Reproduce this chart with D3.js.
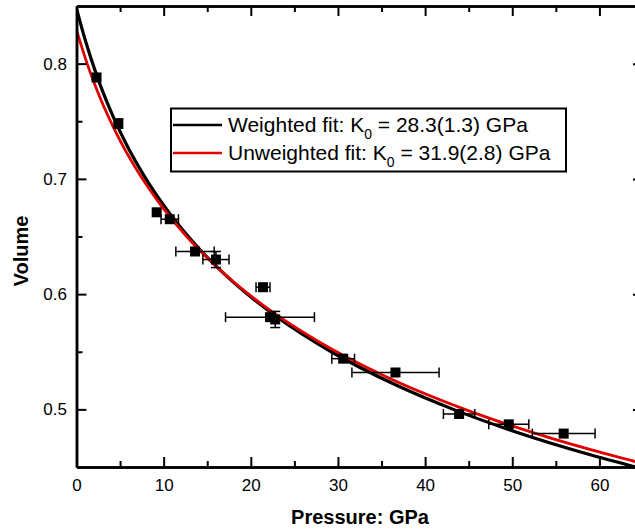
<!DOCTYPE html>
<html>
<head>
<meta charset="utf-8">
<script src="https://cdn.jsdelivr.net/npm/d3@7"></script>
<style>
  html, body { margin: 0; padding: 0; background: #fff; }
  svg { display: block; font-family: "Liberation Sans", Arial, sans-serif; }
</style>
</head>
<body>
<div id="chart"></div>
<script>
// measured points: pressure (GPa), volume, and their error bars
const pressure = [2.3, 4.8, 9.2, 10.7, 13.6, 16.0, 21.4, 22.2, 22.8, 30.6, 36.6, 43.9, 49.6, 55.9];
const volume   = [0.788, 0.748, 0.671, 0.665, 0.637, 0.630, 0.606, 0.580, 0.578, 0.544, 0.532, 0.496, 0.487, 0.479];
const pressureErr = [0, 0, 0, 1.0, 2.2, 1.5, 0.8, 5.1, 0, 1.3, 5.0, 1.8, 2.3, 3.6];
const volumeErr   = [0, 0.004, 0, 0, 0, 0.007, 0, 0, 0.007, 0, 0, 0, 0, 0];

// fit curves
const weightedP = [0, 1.02, 2.31, 3.86, 5.72, 7.97, 10.69, 14.0, 18.05, 23.04, 29.23, 36.97, 43.23, 50.58, 59.25, 64.1, 65.5];
const weightedV = [0.848, 0.82, 0.79, 0.76, 0.73, 0.70, 0.67, 0.64, 0.61, 0.58, 0.55, 0.52, 0.50, 0.48, 0.46, 0.45, 0.447];
const unweightedP = [0, 1.22, 2.73, 4.55, 6.74, 9.40, 12.64, 16.60, 21.47, 27.51, 35.04, 44.55, 52.29, 61.43, 66.6];
const unweightedV = [0.829, 0.80, 0.77, 0.74, 0.71, 0.68, 0.65, 0.62, 0.59, 0.56, 0.53, 0.50, 0.48, 0.46, 0.45];

const xMajor = [0, 10, 20, 30, 40, 50, 60];
const xMinor = [5, 15, 25, 35, 45, 55];
const yMajor = [0.5, 0.6, 0.7, 0.8];
const yMinor = [0.55, 0.65, 0.75];

const legendLabels = [
  {text: "Weighted fit: K", value: " = 28.3(1.3) GPa", color: "#000"},
  {text: "Unweighted fit: K", value: " = 31.9(2.8) GPa", color: "#e00000"}
];

const width = 635, height = 530;
const margin = {left: 76.5, top: 6, right: -8, bottom: 63};

const svg = d3.select("#chart").append("svg")
    .attr("width", width)
    .attr("height", height);

const x = d3.scaleLinear().domain([0, 65]).range([margin.left, width - margin.right]);
const y = d3.scaleLinear().domain([0.45, 0.85]).range([height - margin.bottom, margin.top]);

svg.append("clipPath")
    .attr("id", "plot-clip")
  .append("rect")
    .attr("x", x(0))
    .attr("y", y(0.85))
    .attr("width", x(65) - x(0))
    .attr("height", y(0.45) - y(0.85));

// fit lines
const line = d3.line()
    .x(d => x(d[0]))
    .y(d => y(d[1]))
    .curve(d3.curveMonotoneX);

const curves = svg.append("g").attr("clip-path", "url(#plot-clip)");
curves.append("path")
    .datum(d3.zip(weightedP, weightedV))
    .attr("fill", "none")
    .attr("stroke", "#000")
    .attr("stroke-width", 3.2)
    .attr("d", line);
curves.append("path")
    .datum(d3.zip(unweightedP, unweightedV))
    .attr("fill", "none")
    .attr("stroke", "#e00000")
    .attr("stroke-width", 2.8)
    .attr("d", line);

// data points with error bars
const points = pressure.map((p, i) => ({p, v: volume[i], pe: pressureErr[i], ve: volumeErr[i]}));
const capSize = 5;

const pts = svg.append("g")
    .attr("stroke", "#000")
    .attr("stroke-width", 1.5)
  .selectAll("g")
  .data(points)
  .join("g");

pts.filter(d => d.pe > 0).each(function(d) {
  const g = d3.select(this);
  const y0 = y(d.v);
  g.append("line")
      .attr("x1", x(d.p - d.pe)).attr("x2", x(d.p + d.pe))
      .attr("y1", y0).attr("y2", y0);
  [d.p - d.pe, d.p + d.pe].forEach(e => {
    g.append("line")
        .attr("x1", x(e)).attr("x2", x(e))
        .attr("y1", y0 - capSize).attr("y2", y0 + capSize);
  });
});

pts.filter(d => d.ve > 0).each(function(d) {
  const g = d3.select(this);
  const x0 = x(d.p);
  g.append("line")
      .attr("x1", x0).attr("x2", x0)
      .attr("y1", y(d.v - d.ve)).attr("y2", y(d.v + d.ve));
  [d.v - d.ve, d.v + d.ve].forEach(e => {
    g.append("line")
        .attr("x1", x0 - capSize).attr("x2", x0 + capSize)
        .attr("y1", y(e)).attr("y2", y(e));
  });
});

pts.append("rect")
    .attr("x", d => x(d.p) - 5)
    .attr("y", d => y(d.v) - 5)
    .attr("width", 10)
    .attr("height", 10)
    .attr("fill", "#000")
    .attr("stroke", "none");

// axes, ticks pointing inwards on all four sides
function styleAxis(g) {
  g.select(".domain").attr("stroke-width", 2.5);
  g.selectAll(".tick line").attr("stroke-width", 2);
  g.selectAll(".tick text")
      .attr("fill", "#000")
      .style("font-size", "17px")
      .style("font-family", "'Liberation Sans', Arial, sans-serif");
}

const plotBottom = y(0.45), plotTop = y(0.85), plotLeft = x(0), plotRight = x(65);

svg.append("g")
    .attr("transform", `translate(0,${plotBottom})`)
    .call(d3.axisBottom(x).tickValues(xMinor).tickSize(-6).tickSizeOuter(0).tickFormat(""))
    .call(styleAxis);
svg.append("g")
    .attr("transform", `translate(0,${plotBottom})`)
    .call(d3.axisBottom(x).tickValues(xMajor).tickSize(-10).tickSizeOuter(0).tickPadding(11.5).tickFormat(d3.format("d")))
    .call(styleAxis);

svg.append("g")
    .attr("transform", `translate(0,${plotTop})`)
    .call(d3.axisTop(x).tickValues(xMinor).tickSize(-6).tickSizeOuter(0).tickFormat(""))
    .call(styleAxis);
svg.append("g")
    .attr("transform", `translate(0,${plotTop})`)
    .call(d3.axisTop(x).tickValues(xMajor).tickSize(-10).tickSizeOuter(0).tickFormat(""))
    .call(styleAxis);

svg.append("g")
    .attr("transform", `translate(${plotLeft},0)`)
    .call(d3.axisLeft(y).tickValues(yMinor).tickSize(-6).tickSizeOuter(0).tickFormat(""))
    .call(styleAxis);
svg.append("g")
    .attr("transform", `translate(${plotLeft},0)`)
    .call(d3.axisLeft(y).tickValues(yMajor).tickSize(-10).tickSizeOuter(0).tickPadding(9.5).tickFormat(d3.format(".1f")))
    .call(styleAxis);

svg.append("g")
    .attr("transform", `translate(${plotRight},0)`)
    .call(d3.axisRight(y).tickValues(yMinor).tickSize(-6).tickSizeOuter(0).tickFormat(""))
    .call(styleAxis);
svg.append("g")
    .attr("transform", `translate(${plotRight},0)`)
    .call(d3.axisRight(y).tickValues(yMajor).tickSize(-10).tickSizeOuter(0).tickFormat(""))
    .call(styleAxis);

// axis titles
svg.append("text")
    .attr("x", 360)
    .attr("y", 524)
    .attr("text-anchor", "middle")
    .attr("font-weight", "bold")
    .attr("font-size", 20)
    .text("Pressure: GPa");

svg.append("text")
    .attr("transform", "translate(28,251) rotate(-90)")
    .attr("text-anchor", "middle")
    .attr("font-weight", "bold")
    .attr("font-size", 20)
    .text("Volume");

// legend
const legend = svg.append("g");
legend.append("rect")
    .attr("x", 171)
    .attr("y", 108.5)
    .attr("width", 395)
    .attr("height", 63)
    .attr("fill", "#fff")
    .attr("stroke", "#000")
    .attr("stroke-width", 2);

legendLabels.forEach((d, i) => {
  const ly = 125 + i * 28;
  legend.append("line")
      .attr("x1", 173).attr("x2", 222)
      .attr("y1", ly).attr("y2", ly)
      .attr("stroke", d.color)
      .attr("stroke-width", 2.5);
  const t = legend.append("text")
      .attr("x", 228)
      .attr("y", ly + 6.5)
      .attr("font-size", 21)
      .attr("fill", "#000");
  t.append("tspan").text(d.text);
  t.append("tspan").attr("font-size", 14).attr("dy", 7).text("0");
  t.append("tspan").attr("dy", -7).text(d.value);
});
</script>
</body>
</html>
